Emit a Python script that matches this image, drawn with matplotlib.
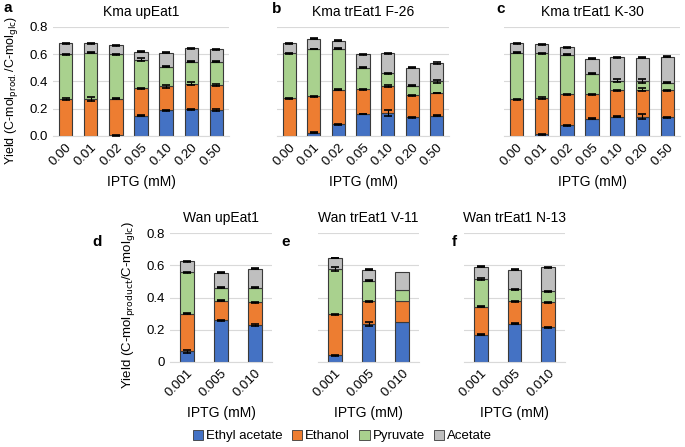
"""Stacked yield bars (ethyl acetate / ethanol / pyruvate / acetate) vs IPTG,
six strains in two rows. Writes out.png."""
import matplotlib
matplotlib.use("Agg")
import matplotlib.pyplot as plt
import numpy as np

plt.rcParams.update({
    "font.family": ["Liberation Sans", "DejaVu Sans"], "font.size": 9,
    "axes.linewidth": 0.8,
})

PRODUCTS = ["Ethyl acetate", "Ethanol", "Pyruvate", "Acetate"]
COLORS = ["#4472C4", "#ED7D31", "#A9D18E", "#BFBFBF"]

KMA_IPTG = ["0.00", "0.01", "0.02", "0.05", "0.10", "0.20", "0.50"]
WAN_IPTG = ["0.001", "0.005", "0.010"]

# rows: ethyl acetate, ethanol, pyruvate, acetate (C-mol / C-mol glc)
A_YIELD = [[0.0, 0.0, 0.005, 0.15, 0.19, 0.195, 0.19],
           [0.27, 0.27, 0.27, 0.20, 0.175, 0.19, 0.185],
           [0.33, 0.34, 0.325, 0.21, 0.145, 0.16, 0.17],
           [0.08, 0.07, 0.065, 0.06, 0.10, 0.10, 0.09]]
A_ERR = [[0.0, 0.0, 0.003, 0.004, 0.004, 0.004, 0.005],
         [0.006, 0.015, 0.004, 0.004, 0.01, 0.008, 0.005],
         [0.004, 0.004, 0.004, 0.01, 0.004, 0.004, 0.004],
         [0.004, 0.004, 0.004, 0.004, 0.004, 0.004, 0.004]]

B_YIELD = [[0.0, 0.024, 0.087, 0.162, 0.17, 0.138, 0.15],
           [0.276, 0.266, 0.252, 0.182, 0.198, 0.16, 0.165],
           [0.33, 0.348, 0.303, 0.158, 0.092, 0.07, 0.085],
           [0.073, 0.075, 0.056, 0.097, 0.146, 0.134, 0.133]]
B_ERR = [[0.0, 0.003, 0.003, 0.003, 0.022, 0.004, 0.003],
         [0.003, 0.003, 0.003, 0.003, 0.005, 0.003, 0.003],
         [0.003, 0.003, 0.003, 0.003, 0.005, 0.003, 0.008],
         [0.003, 0.003, 0.003, 0.003, 0.003, 0.003, 0.007]]

C_YIELD = [[0.0, 0.012, 0.08, 0.128, 0.143, 0.141, 0.138],
           [0.269, 0.267, 0.225, 0.177, 0.192, 0.198, 0.197],
           [0.342, 0.327, 0.291, 0.151, 0.072, 0.063, 0.055],
           [0.07, 0.068, 0.056, 0.111, 0.17, 0.173, 0.192]]
C_ERR = [[0.0, 0.003, 0.003, 0.003, 0.003, 0.018, 0.003],
         [0.004, 0.004, 0.004, 0.003, 0.004, 0.01, 0.003],
         [0.004, 0.004, 0.003, 0.003, 0.01, 0.014, 0.003],
         [0.004, 0.004, 0.003, 0.003, 0.003, 0.004, 0.003]]

D_YIELD = [[0.066, 0.258, 0.227],
           [0.233, 0.123, 0.144],
           [0.258, 0.079, 0.089],
           [0.068, 0.093, 0.117]]
D_ERR = [[0.01, 0.004, 0.006],
         [0.004, 0.004, 0.003],
         [0.004, 0.003, 0.003],
         [0.004, 0.003, 0.003]]

E_YIELD = [[0.041, 0.237, 0.247],
           [0.254, 0.14, 0.13],
           [0.282, 0.128, 0.07],
           [0.068, 0.068, 0.11]]
E_ERR = [[0.003, 0.014, 0.0],
         [0.005, 0.003, 0.0],
         [0.014, 0.005, 0.0],
         [0.003, 0.004, 0.0]]

F_YIELD = [[0.169, 0.237, 0.216],
           [0.175, 0.14, 0.155],
           [0.171, 0.075, 0.068],
           [0.077, 0.121, 0.149]]
F_ERR = [[0.003, 0.003, 0.003],
         [0.003, 0.003, 0.003],
         [0.008, 0.003, 0.003],
         [0.003, 0.003, 0.003]]

TOP_YLABEL = r"Yield (C-mol$_{\mathrm{prod.}}$/C-mol$_{\mathrm{glc}}$)"
BOT_YLABEL = r"Yield (C-mol$_{\mathrm{product}}$/C-mol$_{\mathrm{glc}}$)"

# (letter, title, xticks, yields, errors, axes rect in px: left, top, right, bottom)
PANELS = [
    ("a", "Kma upEat1", KMA_IPTG, A_YIELD, A_ERR, (53, 27, 229, 136)),
    ("b", "Kma trEat1 F-26", KMA_IPTG, B_YIELD, B_ERR, (277, 27, 449, 136)),
    ("c", "Kma trEat1 K-30", KMA_IPTG, C_YIELD, C_ERR, (504, 27, 680, 136)),
    ("d", "Wan upEat1", WAN_IPTG, D_YIELD, D_ERR, (170, 233, 272, 362)),
    ("e", "Wan trEat1 V-11", WAN_IPTG, E_YIELD, E_ERR, (318, 233, 419, 362)),
    ("f", "Wan trEat1 N-13", WAN_IPTG, F_YIELD, F_ERR, (464, 233, 565, 362)),
]

W, H = 685, 447


def draw(fig, letter, title, xt, yields, errs, box):
    l, t, r, b = box
    ax = fig.add_axes([l / W, 1 - b / H, (r - l) / W, (b - t) / H])
    x = np.arange(len(xt))
    width = 0.53 if len(xt) > 3 else 0.4
    bottom = np.zeros(len(xt))
    for vals, err, col in zip(yields, errs, COLORS):
        vals = np.asarray(vals)
        ax.bar(x, vals, width, bottom=bottom, color=col, edgecolor="#3a3a3a",
               lw=0.8, zorder=2)
        top = bottom + vals
        show = np.asarray(err) > 0
        ax.errorbar(x[show], top[show], yerr=np.asarray(err)[show], fmt="none",
                    ecolor="black", elinewidth=0.8, capsize=2.6, capthick=1.2,
                    zorder=3)
        bottom = top
    ax.set_xlim(-0.5, len(xt) - 0.5)
    ax.set_ylim(0, 0.8)
    yt = [0, 0.2, 0.4, 0.6, 0.8]
    ax.set_yticks(yt)
    if len(xt) > 3:
        ax.set_yticklabels([f"{v:.1f}" for v in yt])
    else:
        ax.set_yticklabels(["0", "0.2", "0.4", "0.6", "0.8"])
    ax.set_xticks(x)
    ax.set_xticklabels(xt, rotation=45, ha="right", rotation_mode="anchor",
                       fontsize=9.5)
    ax.tick_params(axis="both", length=0, labelsize=9.5)
    ax.tick_params(axis="x", pad=4)
    ax.grid(axis="y", color="#d9d9d9", lw=0.8, zorder=0)
    for s in ["top", "right", "left"]:
        ax.spines[s].set_visible(False)
    ax.spines["bottom"].set_color("#d9d9d9")
    ax.set_xlabel("IPTG (mM)", fontsize=10, labelpad=5)
    ax.set_title(title, fontsize=10, pad=8)
    if letter == "a":
        ax.set_ylabel(TOP_YLABEL, fontsize=9)
        ax.yaxis.set_label_coords(-0.19, 0.42)
    elif letter == "d":
        ax.set_ylabel(BOT_YLABEL, fontsize=9.5)
        ax.yaxis.set_label_coords(-0.32, 0.44)
    else:
        ax.set_yticklabels([])
    return ax


def main():
    fig = plt.figure(figsize=(W / 100, H / 100), dpi=100)
    letter_pos = {"a": (3, 8), "b": (272, 9), "c": (496, 9),
                  "d": (92, 242), "e": (281, 242), "f": (452, 242)}
    for letter, title, xt, yields, errs, box in PANELS:
        draw(fig, letter, title, xt, yields, errs, box)
        lx, ly = letter_pos[letter]
        fig.text(lx / W, 1 - ly / H, letter, fontsize=11, fontweight="bold",
                 va="center", ha="left")
    handles = [plt.Rectangle((0, 0), 1, 1, fc=c, ec="#3a3a3a", lw=0.6) for c in COLORS]
    fig.legend(handles, PRODUCTS, loc="center", bbox_to_anchor=(0.5, 1 - 436 / H),
               ncol=4, frameon=False, fontsize=9.5, handlelength=0.8,
               handleheight=0.8, handletextpad=0.2, columnspacing=0.7)
    fig.savefig("out.png", dpi=100)


if __name__ == "__main__":
    main()
